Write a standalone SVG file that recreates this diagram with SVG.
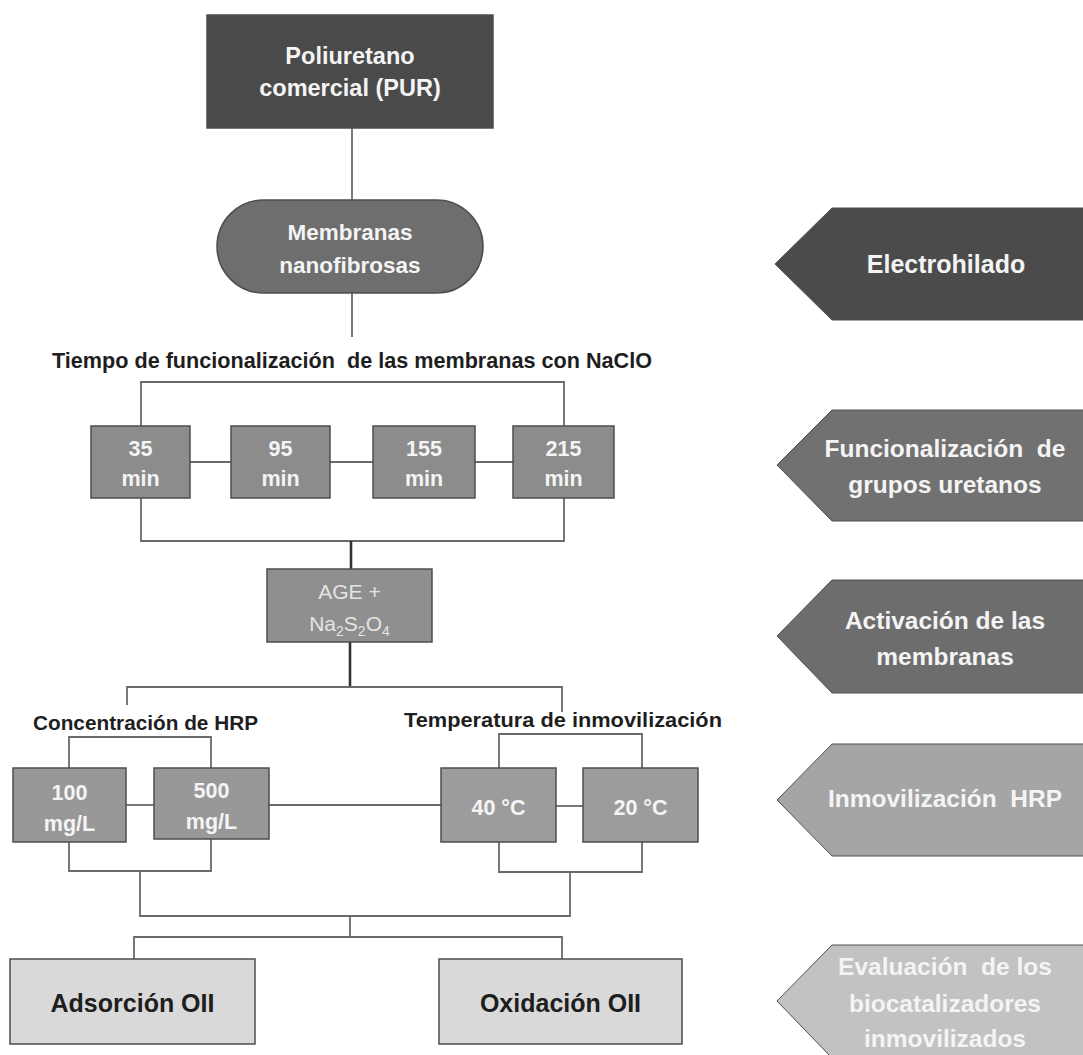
<svg xmlns="http://www.w3.org/2000/svg" width="1083" height="1055" viewBox="0 0 1083 1055">
<style>
.t{font-family:"Liberation Sans",Arial,sans-serif;font-weight:bold;text-anchor:middle}
.w{fill:#f4f4f4}
.k{fill:#1e1e1e}
.box{stroke:#4d4d4d;stroke-width:1.5}
.arr{stroke:#505050;stroke-width:1}
.c{fill:none;stroke:#6a6a6a;stroke-width:1.8}
.cd{fill:none;stroke:#333;stroke-width:2.6}
</style>
<rect width="1083" height="1055" fill="#fff"/>
<g id="connectors">
<line class="c" x1="352" y1="128" x2="352" y2="200"/>
<line class="c" x1="352" y1="293" x2="352" y2="337"/>
<polyline class="c" points="141,426 141,382 564,382 564,426"/>
<line class="c" x1="190" y1="462" x2="231" y2="462"/>
<line class="c" x1="330" y1="462" x2="373" y2="462"/>
<line class="c" x1="475" y1="462" x2="513" y2="462"/>
<polyline class="c" points="141,498 141,541 564,541 564,498"/>
<line class="cd" x1="351" y1="541" x2="351" y2="569"/>
<line class="cd" x1="350" y1="642" x2="350" y2="687"/>
<polyline class="c" points="127,705 127,687 562,687 562,712"/>
<polyline class="c" points="69,768 69,737 211,737 211,768"/>
<polyline class="c" points="499,768 499,734 642,734 642,768"/>
<line class="c" x1="126" y1="805" x2="154" y2="805"/>
<line class="c" x1="269" y1="805" x2="441" y2="805"/>
<line class="c" x1="556" y1="806" x2="583" y2="806"/>
<polyline class="c" points="69,842 69,871 211,871 211,839"/>
<polyline class="c" points="499,842 499,872 642,872 642,842"/>
<polyline class="c" points="140,871 140,916 570,916 570,872"/>
<line class="c" x1="350" y1="916" x2="350" y2="937"/>
<polyline class="c" points="134,959 134,937 562,937 562,959"/>
</g>
<g id="n-pur">
<rect class="box" x="207" y="15" width="286" height="113" fill="#4a4a4a"/>
<text class="t w" x="350" y="64" font-size="23.5">Poliuretano</text>
<text class="t w" x="350" y="96" font-size="23.5">comercial (PUR)</text>
</g>
<g id="n-membranas">
<rect class="box" x="217" y="200" width="266" height="93" rx="46.5" fill="#6e6e6e"/>
<text class="t w" x="350" y="240" font-size="22.5">Membranas</text>
<text class="t w" x="350" y="273" font-size="22.5">nanofibrosas</text>
</g>
<g id="lbl-tiempo">
<text class="t k" x="352" y="368" font-size="21.5" textLength="600" lengthAdjust="spacingAndGlyphs" xml:space="preserve">Tiempo de funcionalización  de las membranas con NaClO</text>
</g>
<g id="n-35">
<rect class="box" x="91" y="426" width="99" height="72" fill="#8c8c8c"/>
<text class="t w" x="140.5" y="456" font-size="21.5">35</text>
<text class="t w" x="140.5" y="486" font-size="21.5">min</text>
</g>
<g id="n-95">
<rect class="box" x="231" y="426" width="99" height="72" fill="#8c8c8c"/>
<text class="t w" x="280.5" y="456" font-size="21.5">95</text>
<text class="t w" x="280.5" y="486" font-size="21.5">min</text>
</g>
<g id="n-155">
<rect class="box" x="373" y="426" width="102" height="72" fill="#8c8c8c"/>
<text class="t w" x="424" y="456" font-size="21.5">155</text>
<text class="t w" x="424" y="486" font-size="21.5">min</text>
</g>
<g id="n-215">
<rect class="box" x="513" y="426" width="101" height="72" fill="#8c8c8c"/>
<text class="t w" x="563.5" y="456" font-size="21.5">215</text>
<text class="t w" x="563.5" y="486" font-size="21.5">min</text>
</g>
<g id="n-age">
<rect class="box" x="267" y="569" width="165" height="73" fill="#8f8f8f"/>
<text x="349.5" y="599" font-size="21" font-family="Liberation Sans, Arial, sans-serif" text-anchor="middle" fill="#e4e4e4">AGE +</text>
<text x="349.5" y="631" font-size="21" font-family="Liberation Sans, Arial, sans-serif" text-anchor="middle" fill="#e4e4e4">Na<tspan font-size="14" dy="5">2</tspan><tspan dy="-5">S</tspan><tspan font-size="14" dy="5">2</tspan><tspan dy="-5">O</tspan><tspan font-size="14" dy="5">4</tspan></text>
</g>
<g id="lbl-conc">
<text class="t k" x="145.5" y="730" font-size="20.5" textLength="225" lengthAdjust="spacingAndGlyphs">Concentración de HRP</text>
</g>
<g id="lbl-temp">
<text class="t k" x="563" y="727" font-size="21" textLength="318" lengthAdjust="spacingAndGlyphs">Temperatura de inmovilización</text>
</g>
<g id="n-100">
<rect class="box" x="13" y="768" width="113" height="74" fill="#989898"/>
<text class="t w" x="69.5" y="800" font-size="21.5">100</text>
<text class="t w" x="69.5" y="831" font-size="21.5">mg/L</text>
</g>
<g id="n-500">
<rect class="box" x="154" y="768" width="115" height="71" fill="#989898"/>
<text class="t w" x="211.5" y="798" font-size="21.5">500</text>
<text class="t w" x="211.5" y="829" font-size="21.5">mg/L</text>
</g>
<g id="n-40">
<rect class="box" x="441" y="768" width="115" height="74" fill="#9c9c9c"/>
<text class="t w" x="498.5" y="815" font-size="21.5">40 °C</text>
</g>
<g id="n-20">
<rect class="box" x="583" y="768" width="115" height="74" fill="#9c9c9c"/>
<text class="t w" x="640.5" y="815" font-size="21.5">20 °C</text>
</g>
<g id="n-adsorcion">
<rect class="box" x="10" y="959" width="245" height="85" fill="#d9d9d9"/>
<text class="t k" x="132.5" y="1012" font-size="25">Adsorción OII</text>
</g>
<g id="n-oxidacion">
<rect class="box" x="439" y="959" width="243" height="85" fill="#d9d9d9"/>
<text class="t k" x="560.5" y="1012" font-size="25">Oxidación OII</text>
</g>
<g id="s-electrohilado">
<polygon class="arr" points="775,264 832,208 1090,208 1090,320 832,320" fill="#4b4b4b"/>
<text class="t w" x="946" y="273" font-size="25">Electrohilado</text>
</g>
<g id="s-funcionalizacion">
<polygon class="arr" points="777,465 832,410 1090,410 1090,521 832,521" fill="#717171"/>
<text class="t w" x="945" y="457" font-size="24.5" xml:space="preserve">Funcionalización  de</text>
<text class="t w" x="945" y="493" font-size="24.5">grupos uretanos</text>
</g>
<g id="s-activacion">
<polygon class="arr" points="777,636 832,580 1090,580 1090,693 832,693" fill="#6d6d6d"/>
<text class="t w" x="945" y="629" font-size="24.5">Activación de las</text>
<text class="t w" x="945" y="665" font-size="24.5">membranas</text>
</g>
<g id="s-inmovilizacion">
<polygon class="arr" points="777,800 832,744 1090,744 1090,856 832,856" fill="#a5a5a5"/>
<text class="t w" x="945" y="807" font-size="24.5" xml:space="preserve">Inmovilización  HRP</text>
</g>
<g id="s-evaluacion">
<polygon class="arr" points="777,1001 832,945 1090,945 1090,1058 832,1058" fill="#c2c2c2"/>
<text class="t w" x="945" y="975" font-size="24.5" xml:space="preserve">Evaluación  de los</text>
<text class="t w" x="945" y="1012" font-size="24.5">biocatalizadores</text>
<text class="t w" x="945" y="1047" font-size="24.5">inmovilizados</text>
</g>
</svg>
